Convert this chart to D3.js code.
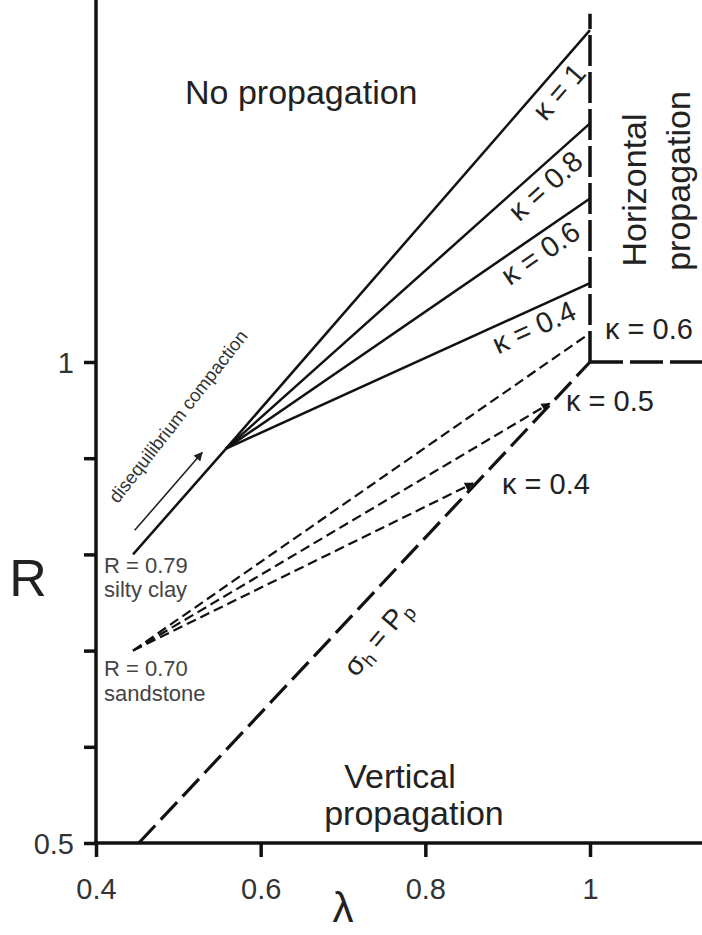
<!DOCTYPE html>
<html>
<head>
<meta charset="utf-8">
<script src="https://cdn.jsdelivr.net/npm/d3@7"></script>
<style>
  body { margin: 0; background: #fff; }
  svg { display: block; font-family: "Liberation Sans", Arial, sans-serif; }
</style>
</head>
<body>
<div id="chart"></div>
<script>
// ---- data ----
const xTicks = [0.4, 0.6, 0.8, 1];
const yTicks = [0.5, 0.6, 0.7, 0.8, 0.9, 1];
const yTickLabels = ["0.5", "", "", "", "", "1"];

// silty clay path up to the point where the kappa lines fan out
const clayLambda = [0.445, 0.558];
const clayR = [0.80, 0.91];

// solid kappa lines: from fan point to lambda = 1
const solidKappa = ["1", "0.8", "0.6", "0.4"];
const solidEndR = [1.345, 1.248, 1.170, 1.082];

// dashed kappa lines from sandstone start point
const sandLambda = 0.445;
const sandR = 0.70;
const dashedKappa = ["0.6", "0.5", "0.4"];
const dashedEndLambda = [1.0, 0.951, 0.858];
const dashedEndR = [1.030, 0.957, 0.874];

// sigma_h = P_p boundary
const sigmaLambda = [0.452, 1.0];
const sigmaR = [0.5, 1.0];

// disequilibrium compaction arrow
const arrowLambda = [0.447, 0.529];
const arrowR = [0.825, 0.906];

const width = 702, height = 935;

const x = d3.scaleLinear().domain([0.4, 1]).range([96, 590]);
const y = d3.scaleLinear().domain([0.5, 1]).range([843, 362]);

const svg = d3.select("#chart").append("svg")
    .attr("width", width)
    .attr("height", height);

svg.append("rect").attr("width", width).attr("height", height).attr("fill", "#fff");

const defs = svg.append("defs");
defs.append("marker")
    .attr("id", "head")
    .attr("viewBox", "0 0 10 10")
    .attr("refX", 9).attr("refY", 5)
    .attr("markerWidth", 12).attr("markerHeight", 9)
    .attr("markerUnits", "userSpaceOnUse")
    .attr("orient", "auto")
    .append("path")
    .attr("d", "M0,0 L10,5 L0,10 Z")
    .attr("fill", "#111");

defs.append("marker")
    .attr("id", "head2")
    .attr("viewBox", "0 0 10 10")
    .attr("refX", 9).attr("refY", 5)
    .attr("markerWidth", 13).attr("markerHeight", 9)
    .attr("markerUnits", "userSpaceOnUse")
    .attr("orient", "auto")
    .append("path")
    .attr("d", "M0,0 L10,5 L0,10 Z")
    .attr("fill", "#222");

const line = d3.line().x(d => x(d[0])).y(d => y(d[1]));

// axes
const topR = y.invert(0);
const rightL = x.invert(width);

const yAxis = d3.axisLeft(y)
    .tickValues(yTicks)
    .tickSize(12)
    .tickPadding(10)
    .tickFormat((d, i) => yTickLabels[i]);

const gy = svg.append("g")
    .attr("transform", `translate(${x(0.4)},0)`)
    .call(yAxis);
gy.select(".domain").remove();
gy.selectAll(".tick line").attr("stroke", "#111").attr("stroke-width", 3.5);
gy.selectAll(".tick text")
    .attr("font-size", 29)
    .attr("fill", "#333")
    .attr("font-family", "Liberation Sans, Arial, sans-serif")
    .attr("dy", "0.36em");

const xAxis = d3.axisBottom(x)
    .tickValues(xTicks)
    .tickSize(14)
    .tickPadding(21)
    .tickFormat(d => d === 1 ? "1" : d3.format(".1f")(d));

const gx = svg.append("g")
    .attr("transform", `translate(0,${y(0.5)})`)
    .call(xAxis);
gx.select(".domain").remove();
gx.selectAll(".tick line").attr("stroke", "#111").attr("stroke-width", 3.5);
gx.selectAll(".tick text")
    .attr("font-size", 29)
    .attr("fill", "#333")
    .attr("font-family", "Liberation Sans, Arial, sans-serif");

svg.append("line")
    .attr("x1", x(0.4)).attr("x2", x(0.4))
    .attr("y1", y(topR)).attr("y2", y(0.5) + 2)
    .attr("stroke", "#111").attr("stroke-width", 3.5);
svg.append("line")
    .attr("x1", x(0.4) - 2).attr("x2", x(rightL))
    .attr("y1", y(0.5)).attr("y2", y(0.5))
    .attr("stroke", "#111").attr("stroke-width", 3.5);

// axis titles
svg.append("text")
    .attr("x", 343).attr("y", 922)
    .attr("text-anchor", "middle")
    .attr("font-size", 42)
    .attr("fill", "#222")
    .text("λ");
svg.append("text")
    .attr("x", 28).attr("y", 596)
    .attr("text-anchor", "middle")
    .attr("font-size", 52)
    .attr("fill", "#222")
    .text("R");

// boundaries
svg.append("path")
    .datum([[1, 1], [1, 1.362]])
    .attr("d", line)
    .attr("fill", "none")
    .attr("stroke", "#111")
    .attr("stroke-width", 3.5)
    .attr("stroke-dasharray", "31,6");

svg.append("path")
    .datum([[1, 1], [rightL, 1]])
    .attr("d", line)
    .attr("fill", "none")
    .attr("stroke", "#111")
    .attr("stroke-width", 3.5)
    .attr("stroke-dasharray", "33,7");

svg.append("path")
    .datum(sigmaLambda.map((l, i) => [l, sigmaR[i]]))
    .attr("d", line)
    .attr("fill", "none")
    .attr("stroke", "#111")
    .attr("stroke-width", 3.2)
    .attr("stroke-dasharray", "24,8");

// silty clay trunk + solid kappa fan
const fan = [clayLambda[1], clayR[1]];
svg.append("path")
    .datum(clayLambda.map((l, i) => [l, clayR[i]]))
    .attr("d", line)
    .attr("fill", "none")
    .attr("stroke", "#111")
    .attr("stroke-width", 2.5);

svg.selectAll(".solid-kappa")
    .data(solidEndR)
    .enter()
    .append("path")
    .attr("class", "solid-kappa")
    .attr("d", d => line([fan, [1, d]]))
    .attr("fill", "none")
    .attr("stroke", "#111")
    .attr("stroke-width", 2.5);

// labels along the solid lines
const labelEndL = 0.972;
svg.selectAll(".solid-label")
    .data(solidEndR)
    .enter()
    .append("text")
    .attr("class", "solid-label")
    .attr("transform", d => {
        const x0 = x(fan[0]), y0 = y(fan[1]), x1 = x(1), y1 = y(d);
        const ang = Math.atan2(y1 - y0, x1 - x0);
        const px = x(labelEndL);
        const py = y0 + (px - x0) * (y1 - y0) / (x1 - x0);
        const off = 6;
        return `translate(${px - off * Math.sin(ang)},${py + off * Math.cos(ang)}) rotate(${ang * 180 / Math.PI})`;
    })
    .attr("dy", "0.72em")
    .attr("text-anchor", "end")
    .attr("font-size", 29)
    .attr("fill", "#222")
    .text((d, i) => `κ = ${solidKappa[i]}`);

// dashed kappa lines
svg.selectAll(".dashed-kappa")
    .data(dashedEndR)
    .enter()
    .append("path")
    .attr("class", "dashed-kappa")
    .attr("d", (d, i) => line([[sandLambda, sandR], [dashedEndLambda[i], d]]))
    .attr("fill", "none")
    .attr("stroke", "#111")
    .attr("stroke-width", 2.2)
    .attr("stroke-dasharray", "10,5")
    .attr("marker-end", (d, i) => i > 0 ? "url(#head)" : null);

svg.append("text")
    .attr("x", 605).attr("y", 339)
    .attr("font-size", 29).attr("fill", "#222")
    .text(`κ = ${dashedKappa[0]}`);
svg.append("text")
    .attr("x", 566).attr("y", 411)
    .attr("font-size", 29).attr("fill", "#222")
    .text(`κ = ${dashedKappa[1]}`);
svg.append("text")
    .attr("x", 502).attr("y", 494)
    .attr("font-size", 29).attr("fill", "#222")
    .text(`κ = ${dashedKappa[2]}`);

// disequilibrium compaction arrow
const arrowPts = arrowLambda.map((l, i) => [l, arrowR[i]]);
svg.append("path")
    .datum(arrowPts)
    .attr("d", line)
    .attr("fill", "none")
    .attr("stroke", "#222")
    .attr("stroke-width", 1.6)
    .attr("marker-end", "url(#head2)");

const aAng = Math.atan2(y(arrowR[1]) - y(arrowR[0]), x(arrowLambda[1]) - x(arrowLambda[0])) * 180 / Math.PI;
svg.append("text")
    .attr("transform", `translate(${x(arrowLambda[0]) - 17},${y(arrowR[0]) - 26}) rotate(${aAng - 3})`)
    .attr("font-size", 18.5)
    .attr("fill", "#333")
    .text("disequilibrium compaction");

// start point notes
const noteX = 104;
svg.append("text").attr("x", noteX).attr("y", y(0.79) + 9)
    .attr("font-size", 22).attr("fill", "#444").text("R = 0.79");
svg.append("text").attr("x", noteX).attr("y", y(0.79) + 33)
    .attr("font-size", 22).attr("fill", "#444").text("silty clay");
svg.append("text").attr("x", noteX).attr("y", y(0.70) + 25)
    .attr("font-size", 22).attr("fill", "#444").text("R = 0.70");
svg.append("text").attr("x", noteX).attr("y", y(0.70) + 50)
    .attr("font-size", 22).attr("fill", "#444").text("sandstone");

// sigma_h = P_p label
const sAng = Math.atan2(y(sigmaR[1]) - y(sigmaR[0]), x(sigmaLambda[1]) - x(sigmaLambda[0])) * 180 / Math.PI;
const sLab = svg.append("text")
    .attr("transform", `translate(356,678) rotate(${sAng - 3})`)
    .attr("font-size", 28)
    .attr("fill", "#222");
sLab.append("tspan").text("σ");
sLab.append("tspan").attr("font-size", 19).attr("dy", 5).text("h");
sLab.append("tspan").attr("dy", -5).text(" = P");
sLab.append("tspan").attr("font-size", 19).attr("dy", 5).text("p");

// region labels
svg.append("text")
    .attr("x", 185).attr("y", 104)
    .attr("font-size", 34).attr("fill", "#222")
    .text("No propagation");

svg.append("text")
    .attr("transform", "translate(646,190) rotate(-90)")
    .attr("text-anchor", "middle")
    .attr("font-size", 34).attr("fill", "#222")
    .text("Horizontal");
svg.append("text")
    .attr("transform", "translate(690,181) rotate(-90)")
    .attr("text-anchor", "middle")
    .attr("font-size", 34).attr("fill", "#222")
    .text("propagation");

svg.append("text")
    .attr("x", 400).attr("y", 788)
    .attr("text-anchor", "middle")
    .attr("font-size", 34).attr("fill", "#222")
    .text("Vertical");
svg.append("text")
    .attr("x", 414).attr("y", 825)
    .attr("text-anchor", "middle")
    .attr("font-size", 34).attr("fill", "#222")
    .text("propagation");
</script>
</body>
</html>
